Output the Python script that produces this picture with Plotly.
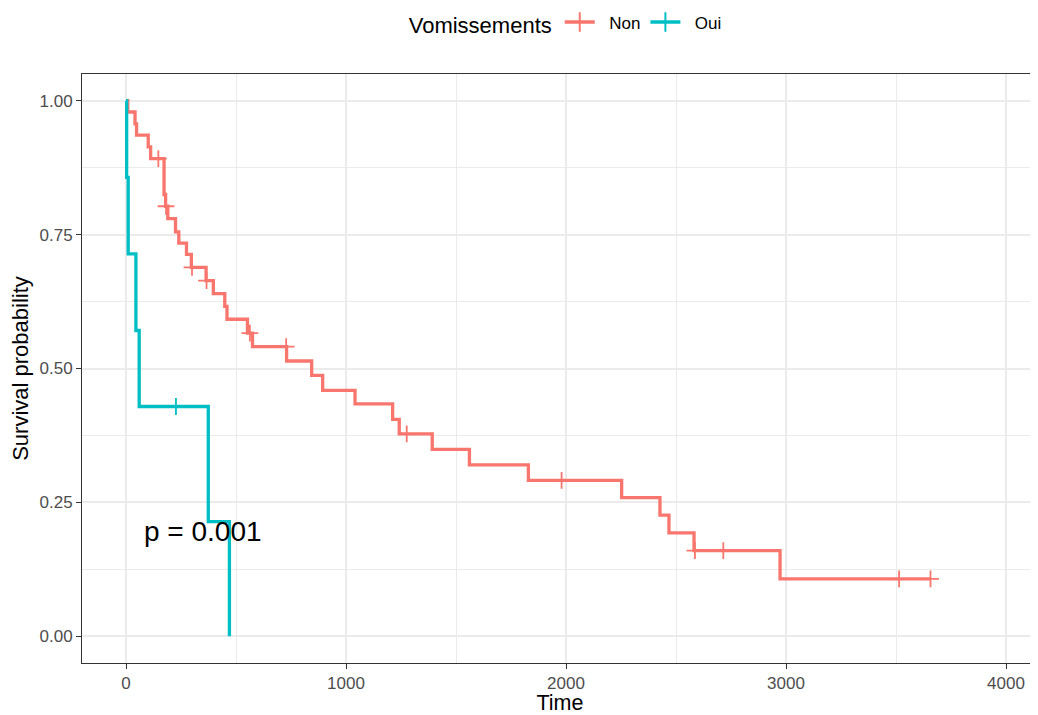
import numpy as np
import plotly.graph_objects as go

# ---- Data ----
groups = ["Non", "Oui"]
colors = ["#F8766D", "#00BFC4"]

non_time = [0, 8, 41, 48, 101, 112, 173, 180, 190, 225, 240, 275, 297, 364, 397, 449, 459,
            552, 575, 730, 844, 894, 1041, 1212, 1242, 1392, 1561, 1829, 2253, 2427, 2468,
            2582, 2973, 3657]
non_surv = [1.0, 0.979, 0.957, 0.936, 0.914, 0.892, 0.825, 0.803, 0.780, 0.755, 0.734, 0.713,
            0.689, 0.664, 0.640, 0.616, 0.592, 0.566, 0.541, 0.514, 0.487, 0.459, 0.434, 0.405,
            0.378, 0.349, 0.320, 0.291, 0.259, 0.226, 0.193, 0.160, 0.107, 0.107]
non_censor = [147, 182, 300, 366, 563, 728, 1276, 1980, 2586, 2715, 3514, 3657]

oui_time = [0, 3, 10, 45, 60, 374, 470]
oui_surv = [1.0, 0.857, 0.714, 0.571, 0.429, 0.214, 0.0]
oui_censor = [227]

p_text = "p = 0.001"
x_ticks = [0, 1000, 2000, 3000, 4000]
y_ticks = [0.0, 0.25, 0.50, 0.75, 1.00]
y_ticklabels = ["0.00", "0.25", "0.50", "0.75", "1.00"]

FONT = "Liberation Sans, Arial, Helvetica, sans-serif"
NB = "\u00a0"

# The page body adds an 8px offset; the figure is sized to fill the rest of the window.
W, H = 1030, 707
ML, MT, MB = 74, 66, 52


def surv_at(times, survs, t):
    idx = np.searchsorted(np.array(times), t, side="right") - 1
    return [survs[i] for i in idx]


fig = go.Figure()

series = [
    (non_time, non_surv, non_censor),
    (oui_time, oui_surv, oui_censor),
]
for name, col, (tt, ss, cc) in zip(groups, colors, series):
    fig.add_trace(go.Scatter(
        x=tt, y=ss, mode="lines", line=dict(color=col, width=3.3, shape="hv"),
        showlegend=False, hoverinfo="skip"))
    fig.add_trace(go.Scatter(
        x=cc, y=surv_at(tt, ss, cc), mode="markers",
        marker=dict(symbol="cross-thin", size=12, line=dict(width=1.8, color=col)),
        showlegend=False, hoverinfo="skip"))

# legend entries (line + cross)
for name, col in zip(groups, colors):
    fig.add_trace(go.Scatter(
        x=[None], y=[None], mode="lines+markers", name=NB * 2 + name,
        line=dict(color=col, width=3.3),
        marker=dict(symbol="cross-thin", size=14, line=dict(width=2, color=col))))

fig.add_annotation(x=71, y=0.196, xref="x", yref="y", text=p_text, showarrow=False,
                   xanchor="left", yanchor="middle",
                   font=dict(size=28, color="black", family=FONT))

grid = "#EBEBEB"
fig.update_layout(
    width=W, height=H,
    margin=dict(l=ML, r=0, t=MT, b=MB, autoexpand=False),
    paper_bgcolor="white", plot_bgcolor="white",
    font=dict(family=FONT, color="black"),
    legend=dict(orientation="h", x=0.507, xanchor="center", y=1.085, yanchor="middle",
                title=dict(text="Vomissements", font=dict(size=22, color="black"),
                           side="left"),
                font=dict(size=17, color="black"), itemwidth=30,
                bgcolor="rgba(0,0,0,0)"),
    xaxis=dict(range=[-200, (W - ML) / 0.22 - 200], tickvals=x_ticks,
               ticktext=[str(v) for v in x_ticks], automargin=False,
               showgrid=True, gridcolor=grid, gridwidth=1.6,
               minor=dict(dtick=500, tick0=0, showgrid=True, gridcolor=grid, gridwidth=0.9),
               zeroline=False, showline=True, linecolor="#333333", linewidth=1, mirror=True,
               ticks="outside", ticklen=5, tickwidth=1.1, tickcolor="#333333",
               tickfont=dict(size=17, color="#4D4D4D"),
               title=dict(text="Time", font=dict(size=21.5, color="black"), standoff=5)),
    yaxis=dict(range=[-0.05, 1.05], tickvals=y_ticks, ticktext=y_ticklabels,
               automargin=False,
               showgrid=True, gridcolor=grid, gridwidth=1.6,
               minor=dict(dtick=0.125, tick0=0, showgrid=True, gridcolor=grid, gridwidth=0.9),
               zeroline=False, showline=True, linecolor="#333333", linewidth=1, mirror=False,
               ticks="outside", ticklen=5, tickwidth=1.1, tickcolor="#333333",
               tickfont=dict(size=17, color="#4D4D4D"),
               title=dict(text="Survival probability", font=dict(size=22, color="black"),
                          standoff=5)),
)

fig.write_html("out.html")
